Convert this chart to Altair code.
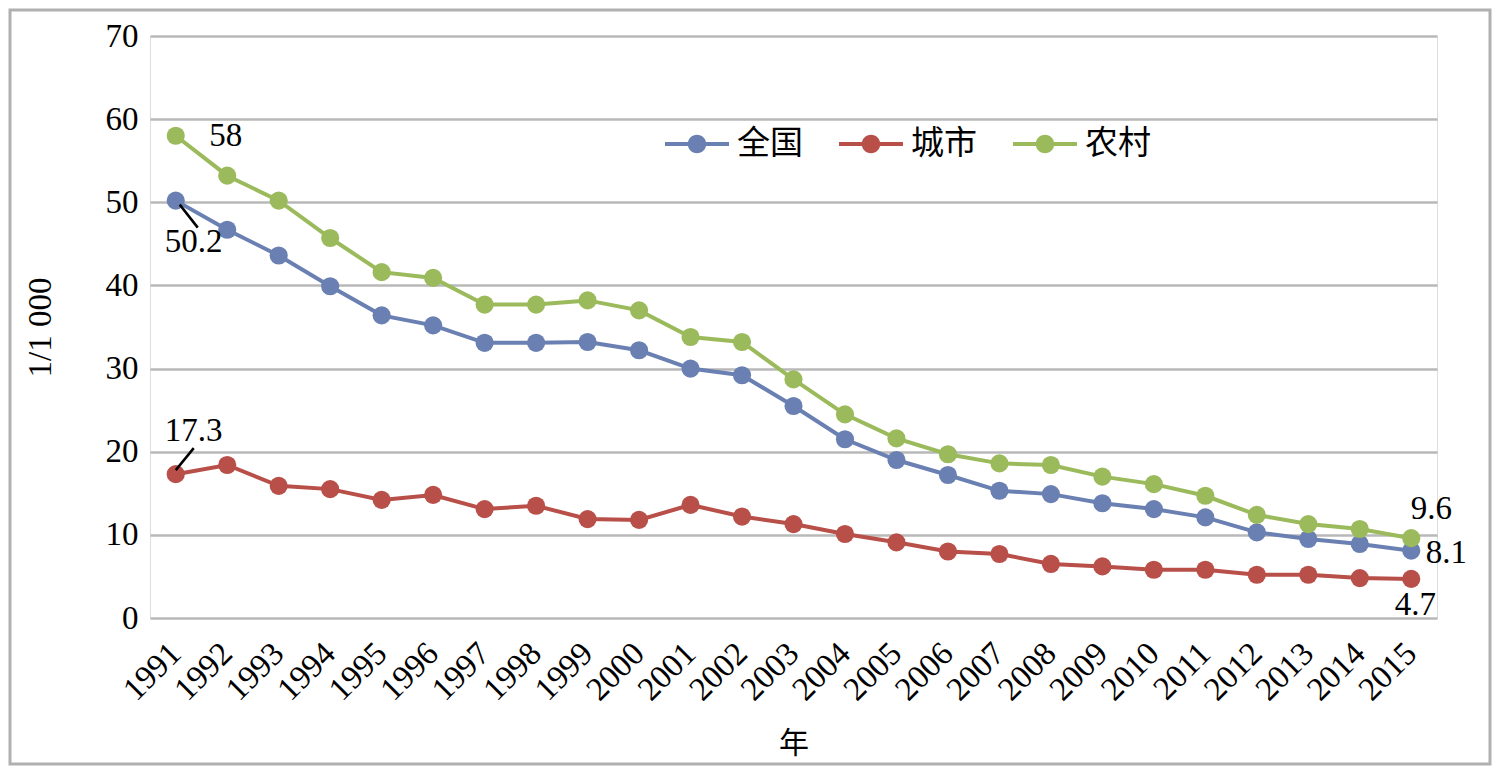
import altair as alt
import pandas as pd

years = [str(y) for y in range(1991, 2016)]
national = [50.2, 46.7, 43.6, 39.9, 36.4, 35.2, 33.1, 33.1, 33.2, 32.2, 30.0, 29.2, 25.5,
            21.5, 19.0, 17.2, 15.3, 14.9, 13.8, 13.1, 12.1, 10.3, 9.5, 8.9, 8.1]
urban = [17.3, 18.4, 15.9, 15.5, 14.2, 14.8, 13.1, 13.5, 11.9, 11.8, 13.6, 12.2, 11.3,
         10.1, 9.1, 8.0, 7.7, 6.5, 6.2, 5.8, 5.8, 5.2, 5.2, 4.8, 4.7]
rural = [58.0, 53.2, 50.2, 45.7, 41.6, 40.9, 37.7, 37.7, 38.2, 37.0, 33.8, 33.2, 28.7,
         24.5, 21.6, 19.7, 18.6, 18.4, 17.0, 16.1, 14.7, 12.4, 11.3, 10.7, 9.6]
series_names = ["全国", "城市", "农村"]
colors = ["#6a80b2", "#b84f48", "#9bba5b"]

rows = []
for name, vals in zip(series_names, [national, urban, rural]):
    for y, v in zip(years, vals):
        rows.append({"年": y, "值": v, "系列": name})
df = pd.DataFrame(rows)

W, H = 1287, 582
SERIF = "Liberation Serif"
CJK = "Noto Sans CJK SC"
FS = 33

legend_path = ("M-1,-0.065L1,-0.065L1,0.065L-1,0.065Z "
               "M0.29,0A0.29,0.29,0,1,1,-0.29,0A0.29,0.29,0,1,1,0.29,0Z")

xscale = alt.Scale(type="band", paddingInner=0, paddingOuter=0)
x_enc = alt.X("年:O", sort=years, scale=xscale,
              axis=alt.Axis(title="年", labelAngle=-45, labelAlign="right",
                            labelBaseline="middle", labelFont=SERIF, labelFontSize=FS,
                            labelColor="#000", labelPadding=30, ticks=False, domain=False,
                            grid=False,
                            titleFont=CJK, titleFontSize=30, titleFontWeight="normal",
                            titleColor="#000", titlePadding=22))
y_enc = alt.Y("值:Q", scale=alt.Scale(domain=[0, 70], nice=False),
              axis=alt.Axis(title="1/1 000", values=list(range(0, 71, 10)),
                            labelFont=SERIF, labelFontSize=FS, labelColor="#000",
                            labelPadding=12, ticks=False, domain=False,
                            gridColor="#b8b8b8", gridWidth=2.5,
                            titleFont=SERIF, titleFontSize=FS, titleFontWeight="normal",
                            titleColor="#000", titlePadding=48))
color_enc = alt.Color("系列:N", sort=series_names,
                      scale=alt.Scale(domain=series_names, range=colors),
                      legend=alt.Legend(title=None, orient="none", direction="horizontal",
                                        legendX=515, legendY=76,
                                        symbolType=legend_path, symbolSize=4096,
                                        symbolStrokeWidth=0, symbolOpacity=1,
                                        labelFont=CJK, labelFontSize=33, labelColor="#000",
                                        labelOffset=8, columnPadding=36))

base = alt.Chart(df)
lines = base.mark_line(strokeWidth=4).encode(x=x_enc, y=y_enc, color=color_enc)
points = base.mark_point(filled=True, size=330, opacity=1).encode(x=x_enc, y=y_enc, color=color_enc)

def value_of(series, year):
    return df[(df["系列"] == series) & (df["年"] == year)]["值"].iloc[0]

def label(series, year, text, dx, dy):
    d = pd.DataFrame([{"年": year, "值": value_of(series, year), "t": text}])
    return alt.Chart(d).mark_text(font=SERIF, fontSize=FS, color="#000", dx=dx, dy=dy,
                                  align="center", baseline="middle").encode(
        x=alt.X("年:O", sort=years, scale=xscale), y=alt.Y("值:Q"), text="t:N")

def leader(series, year, ox1, oy1, ox2, oy2):
    d = pd.DataFrame([{"年": year, "值": value_of(series, year)}])
    return alt.Chart(d).mark_rule(color="#000", strokeWidth=2.5, xOffset=ox1, yOffset=oy1,
                                  x2Offset=ox2, y2Offset=oy2).encode(
        x=alt.X("年:O", sort=years, scale=xscale), y=alt.Y("值:Q"),
        x2=alt.X2("年:O"), y2=alt.Y2("值:Q"))

labels = [
    label("农村", "1991", "58", 50, 0),
    label("全国", "1991", "50.2", 18, 41),
    leader("全国", "1991", 4, 4, 22, 27),
    label("城市", "1991", "17.3", 18, -43),
    leader("城市", "1991", 0, -4, 18, -26),
    label("农村", "2015", "9.6", 20, -29),
    label("全国", "2015", "8.1", 35, 2),
    label("城市", "2015", "4.7", 4, 26),
]

border = alt.Chart(pd.DataFrame([{"a": 1}])).mark_rect(
    fill=None, stroke="#b0b0b0", strokeWidth=3).encode(
    x=alt.value(-140), x2=alt.value(W + 53), y=alt.value(-26), y2=alt.value(H + 146))

chart = alt.layer(lines, points, *labels, border).properties(
    width=W, height=H,
    autosize=alt.AutoSizeParams(type="none"),
    padding={"left": 142, "top": 28, "right": 55, "bottom": 148},
).configure_view(stroke=None).configure(background="white")

chart.save("out.html", embed_options={"renderer": "svg", "actions": False})
